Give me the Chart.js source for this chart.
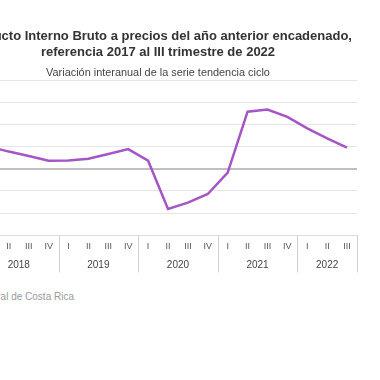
<!DOCTYPE html>
<html><head><meta charset="utf-8">
<script src="https://cdn.jsdelivr.net/npm/chart.js@4"></script>
<style>
html,body{margin:0;padding:0;background:#fff;overflow:hidden;width:380px;height:380px;position:relative;}
#wrap{position:absolute;left:-60px;top:0;width:436px;height:290px;}
#src{position:absolute;right:306px;top:290px;font:10px "Liberation Sans",Arial,sans-serif;color:#9a9a9a;white-space:nowrap;line-height:13px;}
</style></head><body>
<div id="wrap"><canvas id="c" width="436" height="290"></canvas></div>
<div id="src">Fuente: Banco Central de Costa Rica</div>
<script>
const quarters = ['I','II','III','IV','I','II','III','IV','I','II','III','IV','I','II','III','IV','I','II','III'];
const years = ['2018','2019','2020','2021','2022'];
const values = [4.0,3.1,2.3,1.45, 1.5,1.8,2.65,3.55, 1.45,-7.25,-6.1,-4.55, -0.7,10.3,10.7,9.35, 7.3,5.5,3.8];
const yTicks = [-12,-8,-4,0,4,8,12,16];
const titleLines = ['Producto Interno Bruto a precios del año anterior encadenado,','referencia 2017 al III trimestre de 2022'];
const subtitleText = 'Variación interanual de la serie tendencia ciclo';

const FONT = '"Liberation Sans", Arial, sans-serif';
// year centres and boundaries derived from the quarter labels
const yearCenters = [];
const boundaries = [];
{
  let start = 0;
  for (let i = 0; i <= quarters.length; i++) {
    if (i === quarters.length || (i > 0 && quarters[i] === 'I')) {
      yearCenters.push((start + i - 1) / 2);
      boundaries.push(i - 0.5);
      start = i;
    }
  }
  boundaries.unshift(-0.5);
}

const separators = {
  id: 'separators',
  afterDraw(chart) {
    const sc = chart.scales.x2, ctx = chart.ctx, top = chart.chartArea.bottom;
    ctx.save();
    ctx.strokeStyle = '#cfcfcf';
    ctx.lineWidth = 1;
    boundaries.forEach(b => {
      const px = Math.round(sc.getPixelForValue(b)) + 0.5;
      ctx.beginPath(); ctx.moveTo(px, top); ctx.lineTo(px, top + 37); ctx.stroke();
    });
    ctx.restore();
  }
};

new Chart(document.getElementById('c'), {
  type: 'line',
  data: { labels: quarters, datasets: [{ data: values, borderColor: '#a655c6', borderWidth: 2.5, pointRadius: 0, tension: 0, fill: false }] },
  options: {
    responsive: false, animation: false, devicePixelRatio: 1,
    layout: { padding: { left: 19, right: 19, top: 0, bottom: 6.7 } },
    plugins: {
      legend: { display: false }, tooltip: { enabled: false },
      title: { display: true, text: titleLines, color: '#333', font: { family: FONT, size: 13, weight: 'bold', lineHeight: 1.2 }, padding: { top: 29, bottom: 6.7 } },
      subtitle: { display: true, text: subtitleText, color: '#444', font: { family: FONT, size: 10.9, lineHeight: 1.2 }, padding: { top: 0, bottom: 0.1 } }
    },
    scales: {
      x: {
        type: 'category', position: 'bottom', offset: true,
        grid: { display: false, drawTicks: false },
        border: { display: true, color: '#dddddd' },
        ticks: { font: { family: FONT, size: 9 }, color: '#555', padding: 6, maxRotation: 0, autoSkip: false },
        afterFit(s) { s.height = 18; }
      },
      x2: {
        type: 'linear', position: 'bottom', min: -0.5, max: 18.5,
        grid: { display: false, drawTicks: false },
        border: { display: false },
        afterBuildTicks(s) { s.ticks = yearCenters.map(v => ({ value: v })); },
        ticks: { callback: (v, i) => years[i], font: { family: FONT, size: 10 }, color: '#444', padding: 6.4, maxRotation: 0, autoSkip: false },
        afterFit(s) { s.height = 30; }
      },
      y: {
        min: -12, max: 16,
        afterBuildTicks(s) { s.ticks = yTicks.map(v => ({ value: v })); },
        grid: { color: c => c.tick && c.tick.value === 0 ? '#c0c0c0' : '#e6e6e6', lineWidth: c => c.tick && c.tick.value === 0 ? 2 : 1, drawTicks: false },
        border: { display: false },
        ticks: { display: false },
        afterFit(s) { s.width = 20; }
      }
    }
  },
  plugins: [separators]
});
</script>
</body></html>
